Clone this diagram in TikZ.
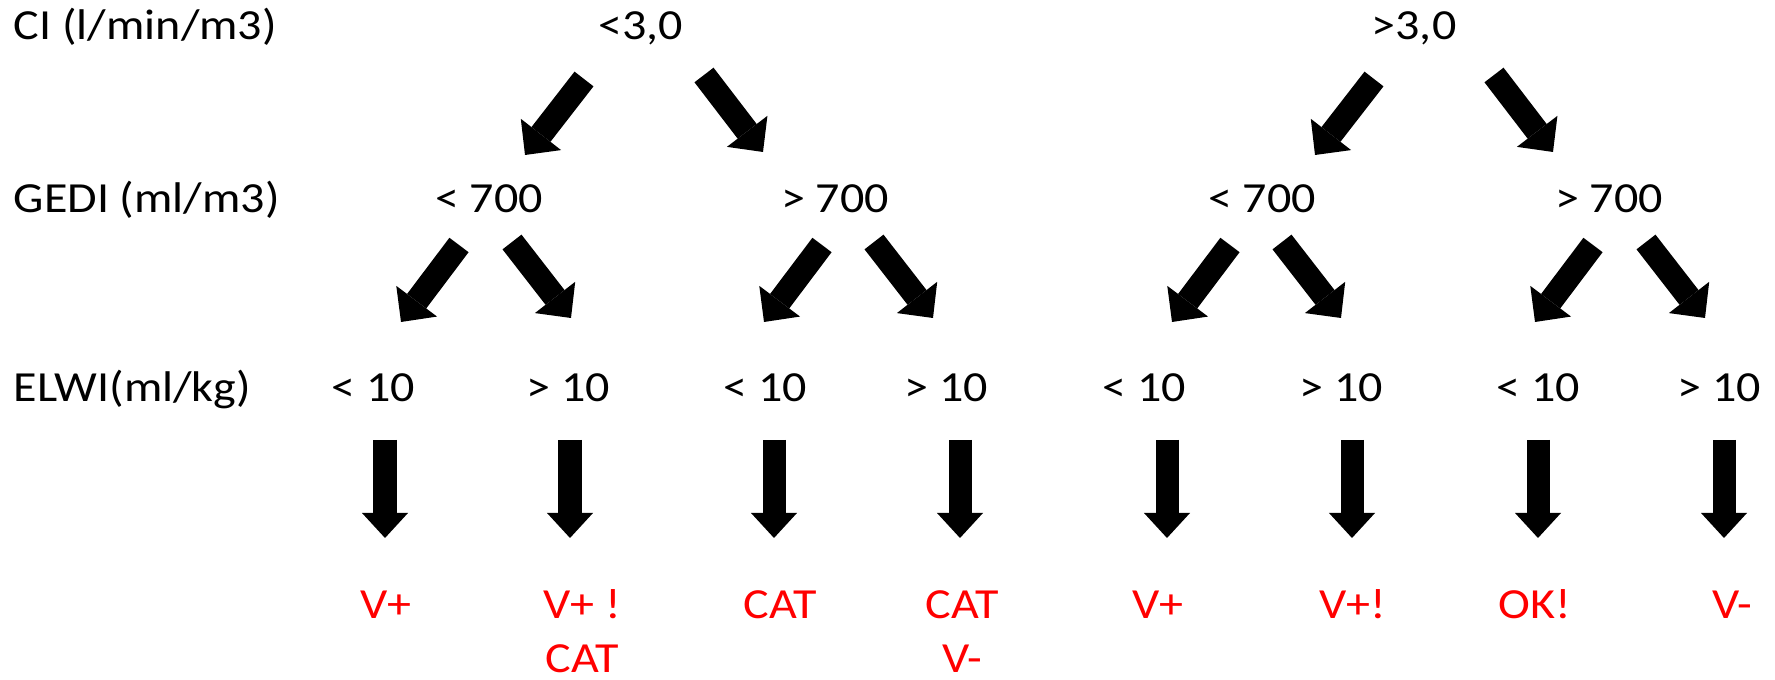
\documentclass[tikz,border=0pt]{standalone}
\usepackage{fontspec}
\setmainfont{Carlito}[FakeStretch=1.12]
\usetikzlibrary{arrows.meta}

\definecolor{verdict}{RGB}{255,0,0}

\begin{document}
\begin{tikzpicture}[x=0.01cm,y=-0.01cm,
	every node/.style={font=\fontsize{12.2pt}{15pt}\selectfont, inner sep=0pt, anchor=base},
	rowlabel/.style={anchor=base west},
	result/.style={text=verdict, align=center, font=\fontsize{12.2pt}{15.4pt}\selectfont},
	diag/.style={line width=0.24cm, -{Triangle[width=0.51cm,length=0.26cm,line width=0pt]}},
	vert/.style={line width=0.23cm, -{Triangle[width=0.46cm,length=0.25cm,line width=0pt]}}]

	\useasboundingbox (0,0) rectangle (1775,680);

	% row labels
	\node[rowlabel] (ci)   at (13,40)  {CI (l/min/m3)};
	\node[rowlabel] (gedi) at (13,213) {GEDI (ml/m3)};
	\node[rowlabel] (elwi) at (13,402) {ELWI(ml/kg)};

	% CI
	\node (c1) at (641,40)  {<3,0};
	\node (c2) at (1414,40) {>3,0};

	% GEDI
	\node (g1) at (489,213)  {< 700};
	\node (g2) at (835,213)  {> 700};
	\node (g3) at (1262,213) {< 700};
	\node (g4) at (1609,213) {> 700};

	% ELWI
	\node (e1) at (373,402)  {< 10};
	\node (e2) at (568,402)  {> 10};
	\node (e3) at (765,402)  {< 10};
	\node (e4) at (946,402)  {> 10};
	\node (e5) at (1144,402) {< 10};
	\node (e6) at (1341,402) {> 10};
	\node (e7) at (1538,402) {< 10};
	\node (e8) at (1719,402) {> 10};

	% results (two-line ones sit on their last line)
	\node[result] (r1) at (386,619)  {V+};
	\node[result] (r2) at (582,673)  {V+ !\\CAT};
	\node[result] (r3) at (780,619)  {CAT};
	\node[result] (r4) at (962,673)  {CAT\\V-};
	\node[result] (r5) at (1158,619) {V+};
	\node[result] (r6) at (1353,619) {V+!};
	\node[result] (r7) at (1535,619) {OK!};
	\node[result] (r8) at (1732,619) {V-};

	% splits
	\foreach \p/\l/\r in {c1/-57/63, c2/-40/80}
	{
		\draw[diag] ([shift={(\l,39)}]\p.base) -- +(-59,76);
		\draw[diag] ([shift={(\r,35)}]\p.base) -- +(59,77);
	}
	\foreach \p/\l/\r in {g1/-30/23, g2/-13/39, g3/-32/20, g4/-16/37}
	{
		\draw[diag] ([shift={(\l,32)}]\p.base) -- +(-58,77);
		\draw[diag] ([shift={(\r,29)}]\p.base) -- +(59,76);
	}

	% outcomes
	\foreach \n/\d in {e1/12, e2/2, e3/9, e4/14, e5/23, e6/11, e7/0, e8/5}
		\draw[vert] ([shift={(\d,38)}]\n.base) -- +(0,98);

\end{tikzpicture}
\end{document}
